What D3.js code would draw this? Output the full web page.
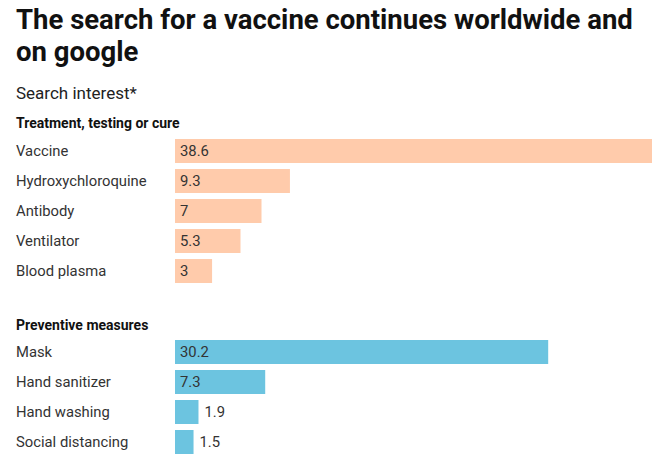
<!DOCTYPE html>
<html><head><meta charset="utf-8">
<script src="https://cdn.jsdelivr.net/npm/d3@7"></script>
<style>body{margin:0;background:#fff;font-family:Roboto,sans-serif}</style>
</head><body><svg id="c" width="668" height="467"></svg>
<script>
const groupNames = ["Treatment, testing or cure", "Preventive measures"];
const treatCats = ["Vaccine","Hydroxychloroquine","Antibody","Ventilator","Blood plasma"];
const treatVals = [38.6, 9.3, 7, 5.3, 3];
const prevCats = ["Mask","Hand sanitizer","Hand washing","Social distancing"];
const prevVals = [30.2, 7.3, 1.9, 1.5];
const colors = ["#ffcbab", "#6cc4e0"];

const svg = d3.select("#c");
svg.append("text").attr("x",16).attr("y",29).attr("font-size",27.5).attr("font-weight",700).attr("fill","#111").text("The search for a vaccine continues worldwide and");
svg.append("text").attr("x",16).attr("y",61).attr("font-size",27.5).attr("font-weight",700).attr("fill","#111").text("on google");
svg.append("text").attr("x",16).attr("y",99).attr("font-size",17).attr("fill","#222").text("Search interest*");

const x = d3.scaleLinear().domain([0, 38.6]).range([175, 652]);
const groups = [
  {name: groupNames[0], cats: treatCats, vals: treatVals, top: 136, hy: 128},
  {name: groupNames[1], cats: prevCats, vals: prevVals, top: 337, hy: 330}
];
groups.forEach((g, gi) => {
  svg.append("text").attr("x",16).attr("y",g.hy).attr("font-size",14).attr("font-weight",700).attr("fill","#111").text(g.name);
  const y = d3.scaleBand().domain(g.cats).range([g.top, g.top + 30*g.cats.length]).paddingInner(0.2).paddingOuter(0.1);
  const data = g.cats.map((c,i)=>({c, v:g.vals[i]}));
  const row = svg.append("g").selectAll("g").data(data).join("g");
  row.append("text").attr("x",16).attr("y",d=>y(d.c)+y.bandwidth()/2+5).attr("font-size",14.8).attr("fill","#333").text(d=>d.c);
  row.append("rect").attr("x",x(0)).attr("y",d=>y(d.c)).attr("width",d=>x(d.v)-x(0)).attr("height",y.bandwidth()).attr("fill",colors[gi]);
  row.append("text").attr("x",d=>(x(d.v)-x(0)>30 ? x(0)+5 : x(d.v)+6)).attr("y",d=>y(d.c)+y.bandwidth()/2+5)
    .attr("font-size",14.8).attr("fill","#333").text(d=>d.v);
});
</script></body></html>
